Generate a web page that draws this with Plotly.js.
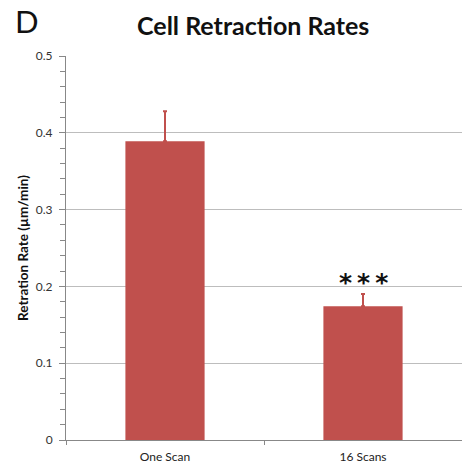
<!DOCTYPE html>
<html><head><meta charset="utf-8">
<script src="https://cdn.plot.ly/plotly-3.0.1.min.js"></script>
<style>html,body{margin:0;padding:0;background:#fff}#chart{width:462px;height:466px}</style>
</head><body><div id="chart"></div>
<script>
const categories = ["One Scan", "16 Scans"];
const rates = [0.389, 0.174];
const errPlus = [0.039, 0.016];
const yTicks = [0, 0.1, 0.2, 0.3, 0.4, 0.5];
const yTickText = ["0", "0.1", "0.2", "0.3", "0.4", "0.5"];

const red = "#C0504D";
const fam = "Lato, 'Open Sans', sans-serif";
const trace = {
  type: "bar", x: categories, y: rates, width: 0.4,
  marker: {color: red},
  error_y: {type: "data", symmetric: false, array: errPlus, arrayminus: [0, 0],
            color: red, thickness: 2, width: 2},
  hoverinfo: "none"
};
const layout = {
  width: 462, height: 466,
  margin: {l: 66, r: 0, t: 56, b: 26},
  paper_bgcolor: "#fff", plot_bgcolor: "#fff",
  font: {family: fam, color: "#333", size: 12},
  showlegend: false,
  title: {text: "<b>Cell Retraction Rates</b>", x: 0.548, xanchor: "center", y: 0.944, yanchor: "middle",
          font: {size: 25, color: "#111", family: fam}},
  xaxis: {type: "category", range: [-0.5, 1.5], showline: true, linecolor: "#888", linewidth: 1,
          ticks: "outside", tickson: "boundaries", ticklen: 4, tickcolor: "#888", ticklabelstandoff: 6,
          tickfont: {size: 12, color: "#222"}, showgrid: false, zeroline: false, fixedrange: true},
  yaxis: {range: [0, 0.5], tickvals: yTicks, ticktext: yTickText, showline: true, linecolor: "#888",
          linewidth: 1, ticks: "outside", ticklen: 6, tickcolor: "#888", gridcolor: "#BDBDBD",
          ticklabelstandoff: 4,
          zeroline: false, tickfont: {size: 12, color: "#333"},
          minor: {dtick: 0.02, ticks: "outside", ticklen: 5, tickcolor: "#888", showgrid: false},
          title: {text: "<b>Retration Rate (µm/min)</b>", font: {size: 13.5, color: "#111"}, standoff: 4},
          fixedrange: true},
  annotations: [
    {text: "D", xref: "paper", yref: "paper", x: -0.135, y: 1.1458, xanchor: "left", yanchor: "top",
     showarrow: false, font: {size: 31, color: "#111", family: fam}},
    {text: "<b>*&#8201;*&#8201;*</b>", xref: "x", yref: "y", x: categories[1], y: 0.205,
     yanchor: "middle", showarrow: false, font: {size: 25, color: "#111", family: "DejaVu Sans, sans-serif"}}
  ]
};
Plotly.newPlot("chart", [trace], layout, {displayModeBar: false, staticPlot: true});
</script></body></html>
